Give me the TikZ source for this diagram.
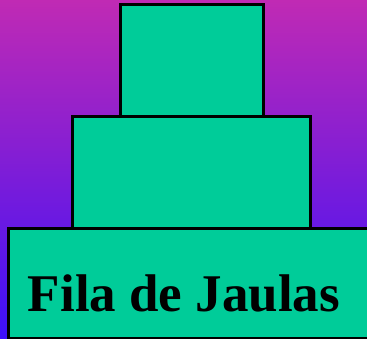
\documentclass[tikz,border=0pt]{standalone}
\usepackage{xcolor}
\usepackage{tikz}
\usepackage{fontspec}
\setmainfont{Liberation Serif}
\definecolor{skytop}{HTML}{C02AB4}
\definecolor{skybottom}{HTML}{3C10FA}
\definecolor{cagegreen}{HTML}{00CC99}
\usetikzlibrary{positioning, calc}

\tikzset{
    tier/.style={draw=black, line width=3pt, fill=cagegreen, outer sep=0pt, inner sep=0pt}
}

\begin{document}
\begin{tikzpicture}[x=1pt, y=-1pt]
    \useasboundingbox (0,0) rectangle (367,339);
    \clip (0,0) rectangle (367,339);

    % Background
    \shade[top color=skytop, bottom color=skybottom] (0,0) rectangle (367,339);

    % Top box
    \node[tier, minimum width=143pt, minimum height=112pt] (top) at (191.5,61) {};

    % Middle box
    \node[tier, minimum width=238pt, minimum height=112pt, below=0pt of top] (middle) {};

    % Bottom box (runs off the right edge)
    \node[tier, minimum width=380pt, minimum height=109pt, anchor=north west] (bottom) at ($(middle.south west) + (-64,0)$) {};

    % Label
    \node[anchor=base, inner sep=0pt, font=\fontsize{53}{60}\selectfont\bfseries] (label) at (184,312) {Fila de Jaulas};
\end{tikzpicture}
\end{document}
